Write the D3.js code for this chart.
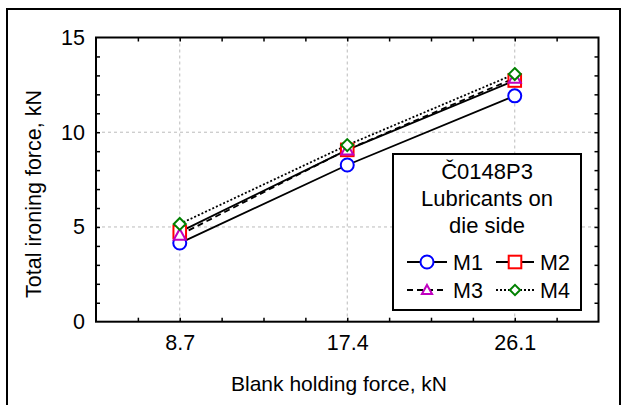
<!DOCTYPE html>
<html><head><meta charset="utf-8">
<script src="https://cdn.jsdelivr.net/npm/d3@7/dist/d3.min.js"></script>
<style>
html,body{margin:0;padding:0;background:#fff;}
text{font-family:Arial,"Liberation Sans",sans-serif;fill:#000;}
</style></head>
<body>
<svg id="chart" width="623" height="405"></svg>
<script>
const categories = [8.7, 17.4, 26.1];
const seriesNames = ["M1", "M2", "M3", "M4"];
const m1 = [4.15, 8.27, 11.92];
const m2 = [4.74, 9.07, 12.73];
const m3 = [4.58, 9.08, 12.86];
const m4 = [5.16, 9.32, 13.07];
const yTicks = [0, 5, 10, 15];
const legendTitle = ["Č0148P3", "Lubricants on", "die side"];
const xTitle = "Blank holding force, kN";
const yTitle = "Total ironing force, kN";

const svg = d3.select("#chart");
const L = 96, R = 598.5, T = 37.5, B = 321.7;

svg.append("rect").attr("x", 7).attr("y", 9).attr("width", 613).attr("height", 410)
  .attr("fill", "none").attr("stroke", "#000").attr("stroke-width", 2);

const x = d3.scaleLinear().domain([4.35, 30.45]).range([L, R]);
const y = d3.scaleLinear().domain([0, 15]).range([B, T]);

const grid = svg.append("g");
grid.selectAll(".gx").data(categories).join("line")
  .attr("x1", d => x(d)).attr("x2", d => x(d)).attr("y1", T).attr("y2", B)
  .attr("stroke", "#bbb").attr("stroke-dasharray", "3,3").attr("stroke-width", 1);
grid.selectAll(".gy").data([5, 10]).join("line")
  .attr("x1", L).attr("x2", R).attr("y1", d => y(d)).attr("y2", d => y(d))
  .attr("stroke", "#bbb").attr("stroke-dasharray", "3,3").attr("stroke-width", 1);

const xMinor = d3.range(0, 13).map(i => 4.35 + i * 2.175).filter(v => v > 4.4 && v < 30.4);
const yMinor = d3.range(1, 15);
const tickLen = 4;
svg.append("g").attr("transform", `translate(0,${B})`)
  .call(d3.axisTop(x).tickValues(xMinor).tickSize(tickLen).tickFormat(""))
  .call(g => g.select(".domain").remove())
  .call(g => g.selectAll("line").attr("stroke-width", 1.5));
svg.append("g").attr("transform", `translate(0,${T})`)
  .call(d3.axisBottom(x).tickValues(xMinor).tickSize(tickLen).tickFormat(""))
  .call(g => g.select(".domain").remove())
  .call(g => g.selectAll("line").attr("stroke-width", 1.5));
svg.append("g").attr("transform", `translate(${L},0)`)
  .call(d3.axisRight(y).tickValues(yMinor).tickSize(tickLen).tickFormat(""))
  .call(g => g.select(".domain").remove())
  .call(g => g.selectAll("line").attr("stroke-width", 1.5));
svg.append("g").attr("transform", `translate(${R},0)`)
  .call(d3.axisLeft(y).tickValues(yMinor).tickSize(tickLen).tickFormat(""))
  .call(g => g.select(".domain").remove())
  .call(g => g.selectAll("line").attr("stroke-width", 1.5));

svg.append("g").attr("transform", `translate(0,${B})`)
  .call(d3.axisBottom(x).tickValues(categories).tickSize(0).tickPadding(13).tickFormat(d3.format(".1f")))
  .call(g => g.select(".domain").remove())
  .call(g => g.selectAll("text").attr("font-size", 21.5).attr("font-family", "Arial, 'Liberation Sans', sans-serif").attr("dy", "0.71em"));
svg.append("g").attr("transform", `translate(${L},0)`)
  .call(d3.axisLeft(y).tickValues(yTicks).tickSize(0).tickPadding(11).tickFormat(d3.format("d")))
  .call(g => g.select(".domain").remove())
  .call(g => g.selectAll("text").attr("font-size", 21.5).attr("font-family", "Arial, 'Liberation Sans', sans-serif"));

svg.append("rect").attr("x", L).attr("y", T).attr("width", R - L).attr("height", B - T)
  .attr("fill", "none").attr("stroke", "#000").attr("stroke-width", 2);

svg.append("text").attr("x", 339).attr("y", 391).attr("text-anchor", "middle")
  .attr("font-size", 21).text(xTitle);
svg.append("text").attr("transform", "translate(41,194) rotate(-90)").attr("text-anchor", "middle")
  .attr("font-size", 21.5).text(yTitle);

const styles = [
  {values: m1, color: "#0000ff", dash: null, shape: "circle"},
  {values: m2, color: "#ff0000", dash: null, shape: "square"},
  {values: m3, color: "#c000c0", dash: "6,4", shape: "triangle"},
  {values: m4, color: "#008000", dash: "2,2", shape: "diamond"}
];
const line = d3.line().x((d, i) => x(categories[i])).y(d => y(d));

function drawMarker(g, shape, color, cx, cy, big) {
  const s = big ? 1 : 0.85;
  if (shape === "circle") {
    g.append("circle").attr("cx", cx).attr("cy", cy).attr("r", 6.5 * s)
      .attr("fill", "#fff").attr("stroke", color).attr("stroke-width", 2);
  } else if (shape === "square") {
    const h = 6.3 * s;
    g.append("rect").attr("x", cx - h).attr("y", cy - h).attr("width", 2 * h).attr("height", 2 * h)
      .attr("fill", "#fff").attr("stroke", color).attr("stroke-width", 2);
  } else if (shape === "triangle") {
    const h = 6 * s;
    g.append("path").attr("d", `M${cx},${cy - h}L${cx + h},${cy + h * 0.8}L${cx - h},${cy + h * 0.8}Z`)
      .attr("fill", "#fff").attr("stroke", color).attr("stroke-width", 2);
  } else {
    const h = 6 * s;
    g.append("path").attr("d", `M${cx},${cy - h}L${cx + h},${cy}L${cx},${cy + h}L${cx - h},${cy}Z`)
      .attr("fill", "#fff").attr("stroke", color).attr("stroke-width", 2);
  }
}

const plot = svg.append("g");
styles.forEach(st => {
  plot.append("path").datum(st.values).attr("d", line)
    .attr("fill", "none").attr("stroke", "#000").attr("stroke-width", 1.8)
    .attr("stroke-dasharray", st.dash);
});
styles.forEach(st => {
  st.values.forEach((v, i) => drawMarker(plot, st.shape, st.color, x(categories[i]), y(v), true));
});

const lg = svg.append("g");
lg.append("rect").attr("x", 393).attr("y", 154).attr("width", 188).attr("height", 156)
  .attr("fill", "#fff").attr("stroke", "#000").attr("stroke-width", 2);
const titleY = [179, 206, 233];
legendTitle.forEach((t, i) => {
  lg.append("text").attr("x", 487).attr("y", titleY[i]).attr("text-anchor", "middle")
    .attr("font-size", 22).text(t);
});
const legPos = [
  {x0: 407, x1: 447, cy: 262},
  {x0: 496, x1: 534, cy: 262},
  {x0: 407, x1: 447, cy: 290},
  {x0: 496, x1: 534, cy: 290}
];
styles.forEach((st, i) => {
  const p = legPos[i];
  const cx = (p.x0 + p.x1) / 2;
  lg.append("line").attr("x1", p.x0).attr("x2", p.x1).attr("y1", p.cy).attr("y2", p.cy)
    .attr("stroke", "#000").attr("stroke-width", 1.8).attr("stroke-dasharray", st.dash);
  drawMarker(lg, st.shape, st.color, cx, p.cy, i < 2);
  lg.append("text").attr("x", p.x1 + 6).attr("y", p.cy + 8).attr("font-size", 21.5).text(seriesNames[i]);
});
</script>
</body></html>
